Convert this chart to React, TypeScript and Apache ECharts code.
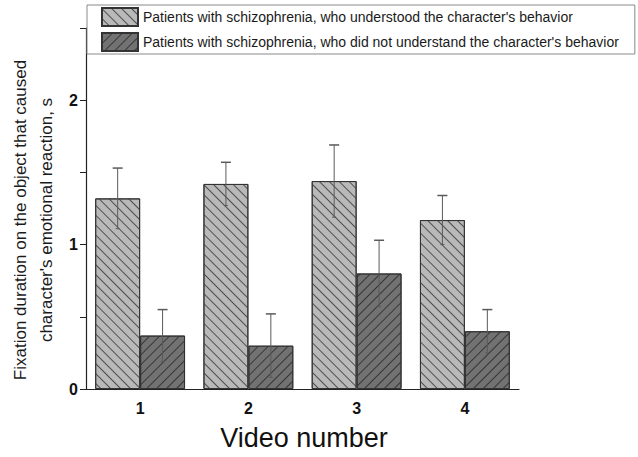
import React, { useEffect, useRef } from "react";
import * as echarts from "echarts";

const categories = ["1", "2", "3", "4"];
const seriesNames = [
  "Patients with schizophrenia, who understood the character's behavior",
  "Patients with schizophrenia, who did not understand the character's behavior",
];
const understoodValues = [1.32, 1.42, 1.44, 1.17];
const understoodErrors = [0.21, 0.15, 0.25, 0.17];
const notUnderstoodValues = [0.37, 0.3, 0.8, 0.4];
const notUnderstoodErrors = [0.18, 0.22, 0.23, 0.15];
const yTicks = [0, 0.5, 1, 1.5, 2, 2.5];

const FONT = "'Liberation Sans', Arial, sans-serif";
const GAP = 0.17;

function errorSeries(values: number[], errors: number[], side: number) {
  return {
    type: "custom",
    z: 5,
    silent: true,
    data: values.map((v, i) => [i, v, errors[i]]),
    renderItem: (params: any, api: any) => {
      const cat = api.value(0);
      const v = api.value(1);
      const e = api.value(2);
      const top = api.coord([cat, v + e]);
      const bot = api.coord([cat, v - e]);
      const bw = (api.size([1, 0])[0] * (1 - GAP)) / 2;
      const x = top[0] + (side * bw) / 2;
      const style = { stroke: "#5a5a5a", lineWidth: 1 };
      return {
        type: "group",
        children: [
          { type: "line", shape: { x1: x, y1: top[1], x2: x, y2: bot[1] }, style },
          { type: "line", shape: { x1: x - 5, y1: top[1], x2: x + 5, y2: top[1] }, style: { stroke: "#5a5a5a", lineWidth: 1.5 } },
          { type: "line", shape: { x1: x - 2, y1: bot[1], x2: x + 2, y2: bot[1] }, style },
        ],
      };
    },
  };
}

export default function App() {
  const ref = useRef<HTMLDivElement>(null);
  useEffect(() => {
    if (!ref.current) return;
    const chart = echarts.init(ref.current, undefined, { renderer: "svg" });
    const option: any = {
      animation: false,
      backgroundColor: "#ffffff",
      textStyle: { fontFamily: FONT },
      grid: { left: 86, right: 119, top: 28, bottom: 68, containLabel: false },
      legend: {
        orient: "vertical",
        left: 87,
        top: 5,
        padding: [2, 16, 2, 14],
        itemWidth: 36,
        itemHeight: 18,
        itemGap: 5,
        icon: "rect",
        borderColor: "#8a8a8a",
        borderWidth: 1,
        backgroundColor: "#ffffff",
        textStyle: { fontFamily: FONT, fontSize: 14, color: "#1a1a1a" },
        data: seriesNames,
      },
      xAxis: [
        {
          type: "category",
          data: categories,
          axisLine: { lineStyle: { color: "#222", width: 1.2 } },
          axisTick: { alignWithLabel: true, length: 7, lineStyle: { color: "#222" } },
          axisLabel: { fontSize: 16, fontWeight: "bold", color: "#111", margin: 11, fontFamily: FONT },
        },
        {
          type: "category",
          data: categories,
          position: "bottom",
          axisLine: { show: false },
          axisTick: { length: 4, lineStyle: { color: "#222" } },
          axisLabel: { show: false },
        },
      ],
      yAxis: {
        type: "value",
        min: 0,
        max: 2.5,
        interval: 0.5,
        splitLine: { show: false },
        axisLine: { show: true, lineStyle: { color: "#222", width: 1.2 } },
        axisTick: { show: true, length: 6, lineStyle: { color: "#222" } },
        axisLabel: {
          fontSize: 16,
          fontWeight: "bold",
          color: "#111",
          margin: 8,
          fontFamily: FONT,
          formatter: (v: number) => (yTicks.includes(v) && Number.isInteger(v) ? String(v) : ""),
        },
      },
      series: [
        {
          name: seriesNames[0],
          type: "bar",
          data: understoodValues,
          barGap: "0%",
          barCategoryGap: GAP * 100 + "%",
          itemStyle: {
            color: "#b9b9b9",
            borderColor: "#333",
            borderWidth: 1,
            decal: {
              symbol: "rect",
              symbolSize: 1,
              color: "#4f4f4f",
              dashArrayX: [1, 0],
              dashArrayY: [1, 6],
              rotation: Math.PI / 4,
            },
          },
        },
        {
          name: seriesNames[1],
          type: "bar",
          data: notUnderstoodValues,
          barGap: "0%",
          barCategoryGap: GAP * 100 + "%",
          itemStyle: {
            color: "#727272",
            borderColor: "#333",
            borderWidth: 1,
            decal: {
              symbol: "rect",
              symbolSize: 1,
              color: "#363636",
              dashArrayX: [1, 0],
              dashArrayY: [1, 6],
              rotation: -Math.PI / 4,
            },
          },
        },
        errorSeries(understoodValues, understoodErrors, -1),
        errorSeries(notUnderstoodValues, notUnderstoodErrors, 1),
      ],
      graphic: [
        {
          type: "text",
          x: 33,
          y: 220,
          rotation: Math.PI / 2,
          style: {
            text: "Fixation duration on the object that caused\ncharacter's emotional reaction, s",
            font: "17px " + FONT,
            fill: "#1a1a1a",
            align: "center",
            verticalAlign: "middle",
            lineHeight: 26,
          },
        },
        {
          type: "text",
          x: 304,
          y: 438,
          style: {
            text: "Video number",
            font: "27px " + FONT,
            fill: "#111",
            align: "center",
            verticalAlign: "middle",
          },
        },
      ],
    };
    chart.setOption(option);
    return () => chart.dispose();
  }, []);
  return <div ref={ref} style={{ width: 638, height: 457, position: "absolute", left: 0, top: 0 }} />;
}
